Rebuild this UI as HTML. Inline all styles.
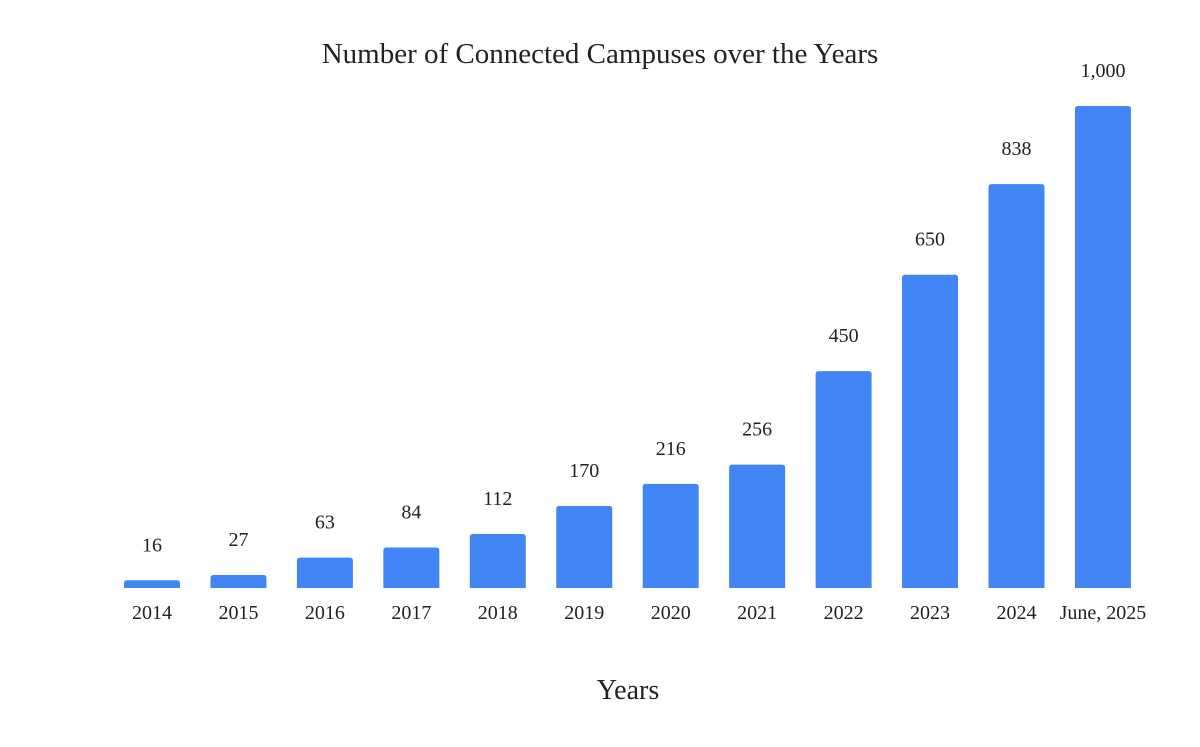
<!DOCTYPE html>
<html><head><meta charset="utf-8"><style>
body{margin:0;background:#fff;}
svg text{font-family:"Liberation Serif",serif;fill:#222;}
</style></head><body>
<svg id="chart" width="1200" height="742" xmlns="http://www.w3.org/2000/svg">
<rect width="1200" height="742" fill="#fff"/>
<text x="600" y="63" text-anchor="middle" font-size="29">Number of Connected Campuses over the Years</text>
<text x="628" y="699" text-anchor="middle" font-size="28">Years</text>
<g id="bars"></g>
</svg>
<script>
const categories=["2014","2015","2016","2017","2018","2019","2020","2021","2022","2023","2024","June, 2025"];
const values=[16,27,63,84,112,170,216,256,450,650,838,1000];
const valueLabels=["16","27","63","84","112","170","216","256","450","650","838","1,000"];
const baseY=588, pxPerUnit=0.482, firstCenter=152, step=86.45, barW=56;
function xScale(i){return firstCenter+i*step;}
function yScale(v){return baseY-v*pxPerUnit;}
const g=document.getElementById('bars');
const NS="http://www.w3.org/2000/svg";
categories.forEach((c,i)=>{
  const cx=xScale(i), top=yScale(values[i]), h=baseY-top, r=Math.min(3,h/2);
  const x0=cx-barW/2, x1=cx+barW/2;
  const p=document.createElementNS(NS,'path');
  p.setAttribute('d',`M${x0},${baseY}V${top+r}Q${x0},${top} ${x0+r},${top}H${x1-r}Q${x1},${top} ${x1},${top+r}V${baseY}Z`);
  p.setAttribute('fill','#4285F4');
  
  
  g.appendChild(p);
  const t=document.createElementNS(NS,'text');
  t.setAttribute('x',cx);t.setAttribute('y',top-29);
  t.setAttribute('text-anchor','middle');t.setAttribute('font-size','20');
  t.textContent=valueLabels[i];
  
  
  g.appendChild(t);
  const l=document.createElementNS(NS,'text');
  l.setAttribute('x',cx);l.setAttribute('y',619);
  l.setAttribute('text-anchor','middle');l.setAttribute('font-size','20');
  l.textContent=c;
  
  
  g.appendChild(l);
});
</script>
</body></html>
